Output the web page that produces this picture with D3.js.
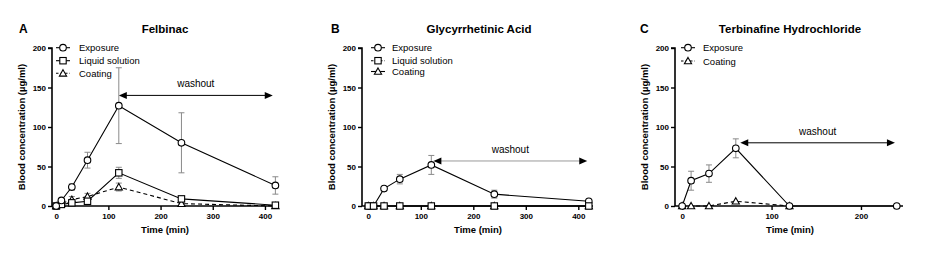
<!DOCTYPE html>
<html><head><meta charset="utf-8">
<script src="https://cdn.jsdelivr.net/npm/d3@7"></script>
<style>body{margin:0;background:#fff}svg{display:block}text{font-family:"Liberation Sans",Arial,sans-serif}</style>
</head><body><svg id="c" width="930" height="261"></svg>
<script>
// ---- data ----
const timesA = [0, 10, 30, 60, 120, 240, 420];
const expA = [0, 7, 24, 58, 127, 80, 26];
const expErrA = [0, 1, 4, 10, 48, 38, 11];
const liqA = [0, 2, 4, 6, 42, 9, 1];
const liqErrA = [0, 1, 1, 1, 7, 3, 1];
const coatA = [0, 3, 8, 12, 24, 3, 0];
const coatErrA = [0, 1, 4, 4, 5, 1, 0];

const timesB = [0, 10, 30, 60, 120, 240, 420];
const expB = [0, 0, 22, 34, 52, 15, 6];
const expErrB = [0, 0, 2, 6, 12, 5, 2];
const liqB = [0, 0, 0, 0, 0, 0, 0];
const coatB = [0, 0, 0, 0, 0, 0, 0];

const timesC = [0, 10, 30, 60, 120, 240];
const expC = [0, 32, 41, 73, 0, 0];
const expErrC = [0, 12, 11, 12, 0, 0];
const timesCoatC = [0, 10, 30, 60, 120];
const coatC = [0, 0, 0, 6, 0];

const yTicks = [0, 50, 100, 150, 200];
const xTicksAB = [0, 100, 200, 300, 400];
const xTicksC = [0, 100, 200];
const washoutA = [120, 415, 140];
const washoutB = [124, 417, 57];
const washoutC = [65, 238, 80];

const svg = d3.select("#c");

function panel(o) {
  const x = d3.scaleLinear().domain(o.xd).range(o.xr);
  const y = d3.scaleLinear().domain([0, 200]).range([206, 48]);
  const g = svg.append("g");
  // letter and title
  g.append("text").attr("x", o.letterX).attr("y", 33).attr("font-size", 12).attr("font-weight", "bold").text(o.letter);
  g.append("text").attr("x", o.titleX).attr("y", 33).attr("text-anchor", "middle").attr("font-size", 11.5).attr("font-weight", "bold").text(o.title);
  // axes
  const ya = g.append("g").attr("transform", `translate(${o.xr[0]},0)`)
    .call(d3.axisLeft(y).tickValues(yTicks).tickSize(4).tickPadding(2));
  const xa = g.append("g").attr("transform", `translate(0,${y(0)})`)
    .call(d3.axisBottom(x).tickValues(o.xTicks).tickSize(4).tickPadding(3));
  [ya, xa].forEach(a => {
    a.select(".domain").attr("stroke-width", 1.6).attr("stroke", "#000");
    a.selectAll(".tick line").attr("stroke-width", 1.4);
    a.selectAll("text").attr("font-size", 8).attr("font-weight", "bold").attr("font-family", "Liberation Sans, Arial, sans-serif");
  });
  // fix y-axis domain path without outer tick extension
  ya.select(".domain").attr("d", `M-4,${y(200)}H0V${y(0)}`);
  xa.select(".domain").attr("d", `M${o.xr[0]},0H${o.xr[1]}`);
  // axis titles
  g.append("text").attr("x", o.xTitleX).attr("y", 233).attr("text-anchor", "middle").attr("font-size", 9.5).attr("font-weight", "bold").text("Time (min)");
  g.append("text").attr("transform", `translate(${o.xr[0] - 27},${y(100)}) rotate(-90)`).attr("text-anchor", "middle").attr("font-size", 9.5).attr("font-weight", "bold").text("Blood concentration (µg/ml)");

  // washout
  const w = o.washout, wc = o.washoutColor;
  const wy = y(w[2]);
  g.append("line").attr("x1", x(w[0]) + 6).attr("x2", x(w[1]) - 6).attr("y1", wy).attr("y2", wy).attr("stroke", wc).attr("stroke-width", 1);
  g.append("path").attr("d", `M${x(w[0])},${wy}l8,-3.5v7z`).attr("fill", "#000");
  g.append("path").attr("d", `M${x(w[1])},${wy}l-8,-3.5v7z`).attr("fill", "#000");
  g.append("text").attr("x", (x(w[0]) + x(w[1])) / 2).attr("y", wy - 8).attr("text-anchor", "middle").attr("font-size", 10).text("washout");

  // series
  o.series.forEach(s => {
    const pts = s.t.map((t, i) => ({ t, v: s.v[i], e: s.e ? s.e[i] : 0 }));
    // error bars
    pts.filter(p => p.e > 0).forEach(p => {
      const eg = g.append("g").attr("stroke", "#8a8a8a").attr("stroke-width", 1);
      eg.append("line").attr("x1", x(p.t)).attr("x2", x(p.t)).attr("y1", y(p.v - p.e)).attr("y2", y(p.v + p.e));
      eg.append("line").attr("x1", x(p.t) - 3).attr("x2", x(p.t) + 3).attr("y1", y(p.v + p.e)).attr("y2", y(p.v + p.e));
      eg.append("line").attr("x1", x(p.t) - 3).attr("x2", x(p.t) + 3).attr("y1", y(p.v - p.e)).attr("y2", y(p.v - p.e));
    });
    g.append("path").datum(pts).attr("fill", "none").attr("stroke", "#000").attr("stroke-width", 1.1)
      .attr("stroke-dasharray", s.dash ? "4,3" : null)
      .attr("d", d3.line().x(p => x(p.t)).y(p => y(p.v)));
    pts.forEach(p => marker(g, s.shape, x(p.t), y(p.v)));
  });

  // legend
  o.legend.forEach((l, i) => {
    const ly = o.legendY[i];
    const sx = o.legendSymX;
    g.append("line").attr("x1", sx - 7).attr("x2", sx + 7).attr("y1", ly).attr("y2", ly).attr("stroke", "#000").attr("stroke-width", 1.1)
      .attr("stroke-dasharray", l.dash ? "2.5,2" : null);
    marker(g, l.shape, sx, ly);
    g.append("text").attr("x", o.legendTextX).attr("y", ly + 3.5).attr("font-size", 9.5).text(l.name);
  });
}

function marker(g, shape, cx, cy) {
  if (shape === "circle") {
    g.append("circle").attr("cx", cx).attr("cy", cy).attr("r", 3.3).attr("fill", "#fff").attr("stroke", "#000").attr("stroke-width", 1.1);
  } else if (shape === "square") {
    g.append("rect").attr("x", cx - 3.2).attr("y", cy - 3.2).attr("width", 6.4).attr("height", 6.4).attr("fill", "#fff").attr("stroke", "#000").attr("stroke-width", 1.1);
  } else {
    g.append("path").attr("d", `M${cx},${cy - 3.6}L${cx + 3.6},${cy + 2.8}L${cx - 3.6},${cy + 2.8}Z`).attr("fill", "#fff").attr("stroke", "#000").attr("stroke-width", 1.1);
  }
}

panel({
  letter: "A", letterX: 19, title: "Felbinac", titleX: 165,
  xd: [-8, 425], xr: [52, 278], xTicks: xTicksAB, xTitleX: 165,
  washout: washoutA, washoutColor: "#000",
  series: [
    { t: timesA, v: coatA, e: coatErrA, shape: "triangle", dash: true },
    { t: timesA, v: liqA, e: liqErrA, shape: "square" },
    { t: timesA, v: expA, e: expErrA, shape: "circle" }
  ],
  legend: [
    { name: "Exposure", shape: "circle" },
    { name: "Liquid solution", shape: "square" },
    { name: "Coating", shape: "triangle", dash: true }
  ],
  legendY: [47.7, 60.7, 73.3], legendSymX: 63, legendTextX: 79
});

panel({
  letter: "B", letterX: 331, title: "Glycyrrhetinic Acid", titleX: 479,
  xd: [-12, 428], xr: [362, 593], xTicks: xTicksAB, xTitleX: 478,
  washout: washoutB, washoutColor: "#999",
  series: [
    { t: timesB, v: coatB, shape: "triangle" },
    { t: timesB, v: expB, e: expErrB, shape: "circle" },
    { t: timesB, v: liqB, shape: "square" }
  ],
  legend: [
    { name: "Exposure", shape: "circle" },
    { name: "Liquid solution", shape: "square", dash: true },
    { name: "Coating", shape: "triangle" }
  ],
  legendY: [47.7, 60.7, 71.5], legendSymX: 378, legendTextX: 392
});

panel({
  letter: "C", letterX: 640, title: "Terbinafine Hydrochloride", titleX: 790,
  xd: [-8, 247], xr: [675, 903], xTicks: xTicksC, xTitleX: 790,
  washout: washoutC, washoutColor: "#000",
  series: [
    { t: timesCoatC, v: coatC, shape: "triangle", dash: true },
    { t: timesC, v: expC, e: expErrC, shape: "circle" }
  ],
  legend: [
    { name: "Exposure", shape: "circle" },
    { name: "Coating", shape: "triangle", dash: true }
  ],
  legendY: [47.7, 61], legendSymX: 688, legendTextX: 703
});
</script></body></html>
